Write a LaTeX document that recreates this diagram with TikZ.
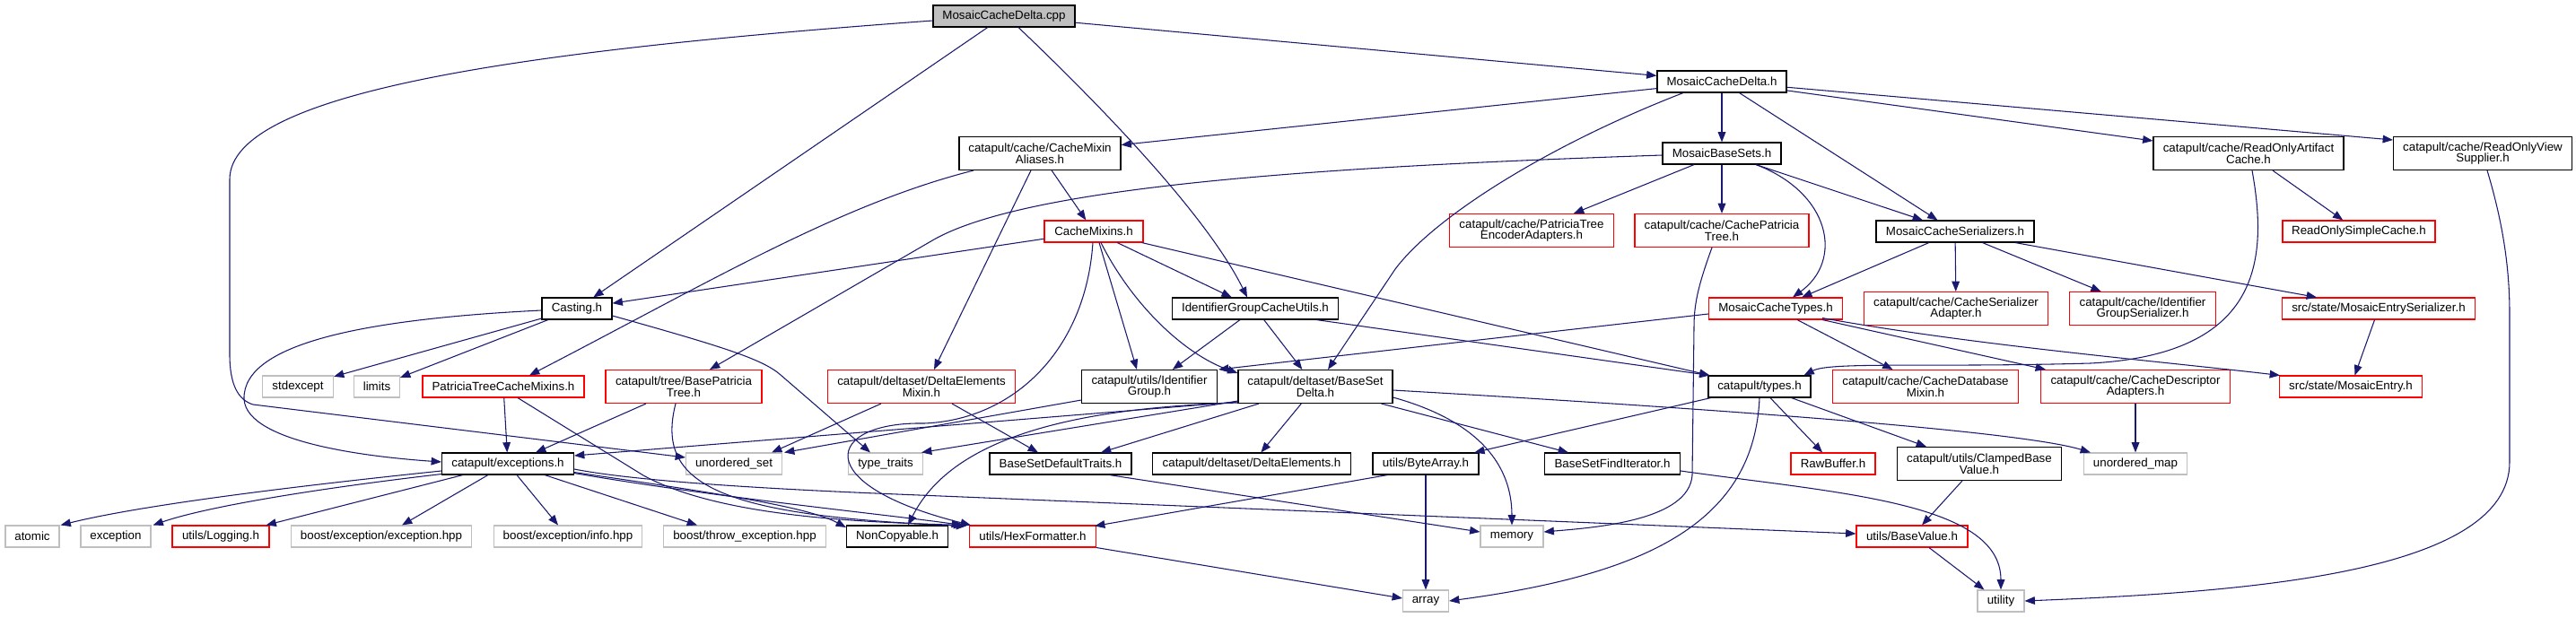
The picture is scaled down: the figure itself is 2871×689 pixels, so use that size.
\documentclass[tikz,border=0pt]{standalone}
\usepackage{fontspec}
\setmainfont{Liberation Sans}
\usetikzlibrary{calc,arrows.meta}
\definecolor{edgec}{HTML}{191970}
\definecolor{grayb}{HTML}{BFBFBF}
\begin{document}
\begin{tikzpicture}[x=0.75pt,y=-0.75pt,
  box/.style={draw, rectangle, inner sep=0pt, minimum height=18pt, align=center,
    font=\fontsize{10}{9.6}\selectfont, line width=0.8pt},
  two/.style={minimum height=27.75pt},
  wd/.style={minimum width={#1*0.75pt}},
  bk/.style={draw=black},
  gy/.style={draw=grayb},
  rd/.style={draw=red},
  edg/.style={draw=edgec, line width=0.8pt, -{Triangle[length=8.5pt,width=6.5pt]}}]
\useasboundingbox (0,0) rectangle (2871,689);
% nodes
\node[box,bk,fill=grayb,wd=158] (cpp) at (1119,18) {MosaicCacheDelta.cpp};
\node[box,bk,wd=144] (mch) at (1919,91) {MosaicCacheDelta.h};
\node[box,bk,two,wd=180] (cma) at (1159,171) {catapult/cache/CacheMixin\\Aliases.h};
\node[box,bk,wd=132] (mbs) at (1919,171) {MosaicBaseSets.h};
\node[box,bk,two,wd=212] (roda) at (2506,171) {catapult/cache/ReadOnlyArtifact\\Cache.h};
\node[box,bk,two,wd=199] (rovs) at (2767,171) {catapult/cache/ReadOnlyView\\Supplier.h};
\node[box,rd,wd=110] (cmix) at (1219,258) {CacheMixins.h};
\node[box,rd,two,wd=183] (ptea) at (1707,257) {catapult/cache/PatriciaTree\\EncoderAdapters.h};
\node[box,rd,two,wd=194] (cpt) at (1919,257) {catapult/cache/CachePatricia\\Tree.h};
\node[box,bk,wd=176] (mcs) at (2179,258) {MosaicCacheSerializers.h};
\node[box,rd,wd=170] (rosc) at (2629,258) {ReadOnlySimpleCache.h};
\node[box,bk,wd=78] (cast) at (643,344) {Casting.h};
\node[box,bk,wd=185] (igcu) at (1399,344) {IdentifierGroupCacheUtils.h};
\node[box,rd,wd=149] (mct) at (1979,344) {MosaicCacheTypes.h};
\node[box,rd,two,wd=205] (csa) at (2180,344) {catapult/cache/CacheSerializer\\Adapter.h};
\node[box,rd,two,wd=163] (igs) at (2388,344) {catapult/cache/Identifier\\GroupSerializer.h};
\node[box,rd,wd=215] (mese) at (2651,344) {src/state/MosaicEntrySerializer.h};
\node[box,gy,wd=79] (stde) at (332,431) {stdexcept};
\node[box,gy,wd=51] (lim) at (420,431) {limits};
\node[box,rd,wd=180] (ptcm) at (561,431) {PatriciaTreeCacheMixins.h};
\node[box,rd,two,wd=174] (bpt) at (762,431) {catapult/tree/BasePatricia\\Tree.h};
\node[box,rd,two,wd=209] (dem) at (1027,431) {catapult/deltaset/DeltaElements\\Mixin.h};
\node[box,bk,two,wd=151] (ig) at (1281,431) {catapult/utils/Identifier\\Group.h};
\node[box,bk,two,wd=172] (bsd) at (1466,431) {catapult/deltaset/BaseSet\\Delta.h};
\node[box,bk,wd=114] (types) at (1961,431) {catapult/types.h};
\node[box,rd,two,wd=207] (cdbm) at (2146,431) {catapult/cache/CacheDatabase\\Mixin.h};
\node[box,rd,two,wd=211] (cda) at (2380,431) {catapult/cache/CacheDescriptor\\Adapters.h};
\node[box,rd,wd=159] (ment) at (2620,431) {src/state/MosaicEntry.h};
\node[box,bk,wd=147] (exc) at (566,517) {catapult/exceptions.h};
\node[box,gy,wd=107] (uset) at (818,517) {unordered\_set};
\node[box,gy,wd=83] (tt) at (987,517) {type\_traits};
\node[box,bk,wd=158] (bsdt) at (1182,517) {BaseSetDefaultTraits.h};
\node[box,bk,wd=221] (de) at (1395,517) {catapult/deltaset/DeltaElements.h};
\node[box,bk,wd=118] (ba) at (1589,517) {utils/ByteArray.h};
\node[box,bk,wd=151] (bsfi) at (1797,517) {BaseSetFindIterator.h};
\node[box,rd,wd=94] (rb) at (2043,517) {RawBuffer.h};
\node[box,bk,two,wd=183] (cbv) at (2206,517) {catapult/utils/ClampedBase\\Value.h};
\node[box,gy,wd=115] (umap) at (2380,517) {unordered\_map};
\node[box,gy,wd=60] (atom) at (36,598) {atomic};
\node[box,gy,wd=78] (excp) at (129,598) {exception};
\node[box,rd,wd=108] (log) at (246,598) {utils/Logging.h};
\node[box,gy,wd=201] (bee) at (425,598) {boost/exception/exception.hpp};
\node[box,gy,wd=165] (bei) at (633,598) {boost/exception/info.hpp};
\node[box,gy,wd=181] (bte) at (830,598) {boost/throw\_exception.hpp};
\node[box,bk,wd=113] (nc) at (1000,598) {NonCopyable.h};
\node[box,rd,wd=141] (hex) at (1151,598) {utils/HexFormatter.h};
\node[box,gy,wd=70] (mem) at (1685,598) {memory};
\node[box,rd,wd=124] (bv) at (2131,598) {utils/BaseValue.h};
\node[box,gy,wd=51] (arr) at (1589,670) {array};
\node[box,gy,wd=52] (util) at (2230,670) {utility};
% edges
\draw[edg] (cpp) -- (mch);
\draw[edg] (cpp) -- (cast);
\draw[edg] ($(cpp.south)+(16,0)$) .. controls (1250,140) and (1350,250) .. ($(igcu.north)+(-9,0)$);
\draw[edg] ($(cpp.west)+(0,5)$) .. controls (600,55) and (256,100) .. (256,200) -- (256,395) .. controls (256,430) and (266,446) .. (282,451) -- ($(uset.west)+(0,-7)$);
\draw[edg] (mch) -- (mbs);
\draw[edg] (mch) -- (mcs);
\draw[edg] (mch) -- ($(roda.west)+(0,-14)$);
\draw[edg] (mch) -- ($(rovs.west)+(0,-15)$);
\draw[edg] (mch) -- (cma);
\draw[edg] ($(mch.south)+(-43,0)$) .. controls (1730,160) and (1600,240) .. (1555,300) -- ($(bsd.north)+(14,0)$);
\draw[edg] (mbs) -- (ptea);
\draw[edg] (mbs) -- (cpt);
\draw[edg] ($(mbs.south)+(38,0)$) .. controls (2040,215) and (2055,290) .. ($(mct.north)+(19,0)$);
\draw[edg] ($(mbs.south)+(38,0)$) -- ($(mcs.north)+(-36,0)$);
\draw[edg] ($(mbs.west)+(0,2)$) .. controls (1500,185) and (1151,205) .. (1041,267) -- ($(bpt.north)+(29,0)$);
\draw[edg] (cma) -- (cmix);
\draw[edg] ($(cma.south)+(-74,0)$) .. controls (935,228) and (790,315) .. ($(ptcm.north)+(29,0)$);
\draw[edg] ($(cma.south)+(-10,0)$) -- ($(dem.north)+(14,0)$);
\draw[edg] (cmix) -- (cast);
\draw[edg] (cmix) -- (igcu);
\draw[edg] ($(cmix.south east)+(-2,0)$) -- ($(types.north west)+(2,0)$);
\draw[edg] ($(cmix.south)+(6,0)$) -- ($(ig.north)+(-14,0)$);
\draw[edg] ($(cmix.south)+(8,0)$) .. controls (1262,340) and (1320,395) .. ($(bsd.west)+(0,-15)$);
\draw[edg] ($(cmix.south)+(-1,0)$) .. controls (1210,390) and (1130,468) .. (1030,472) .. controls (920,470) and (900,540) .. ($(hex.north west)+(2,0)$);
\draw[edg] (igcu) -- (ig);
\draw[edg] (igcu) -- (bsd);
\draw[edg] ($(igcu.south east)+(-25,0)$) -- ($(types.north west)+(2,0)$);
\draw[edg] (mcs) -- (mct);
\draw[edg] (mcs) -- (csa);
\draw[edg] (mcs) -- (igs);
\draw[edg] ($(mcs.south)+(67,0)$) -- ($(mese.north)+(-69,0)$);
\draw[edg] (roda) -- (rosc);
\draw[edg] ($(roda.south)+(4,0)$) .. controls (2528,290) and (2520,395) .. (2330,405) .. controls (2150,410) and (2040,403) .. ($(types.north east)+(-8,0)$);
\draw[edg] ($(rovs.south)+(5,0)$) .. controls (2790,250) and (2797,300) .. (2797,350) -- (2797,515) .. controls (2797,640) and (2500,660) .. (util.east);
\draw[edg] ($(mct.west)+(0,6)$) -- ($(ig.north east)+(1,0)$);
\draw[edg] (mct) -- (cdbm);
\draw[edg] ($(mct.south east)+(-23,0)$) -- ($(cda.north west)+(6,0)$);
\draw[edg] ($(mct.south east)+(-23,-2)$) .. controls (2200,385) and (2400,402) .. ($(ment.north west)+(1,0)$);
\draw[edg] (mese) -- (ment);
\draw[edg] (cda) -- (umap);
\draw[edg] ($(cpt.south)+(-11,0)$) .. controls (1892,320) and (1888,340) .. (1888,365) -- (1886,530) .. controls (1882,580) and (1780,588) .. ($(mem.east)+(0,-5)$);
\draw[edg] (types) -- (ba);
\draw[edg] (types) -- (rb);
\draw[edg] ($(types.south east)+(-22,0)$) -- ($(cbv.north)+(-59,0)$);
\draw[edg] (types.south) .. controls (1955,580) and (1840,640) .. (arr.east);
\draw[edg] ($(bsd.east)+(0,4)$) .. controls (1900,455) and (2250,480) .. ($(umap.north west)+(8,0)$);
\draw[edg] ($(bsd.east)+(0,12)$) .. controls (1650,470) and (1685,520) .. (mem.north);
\draw[edg] ($(bsd.south east)+(-13,0)$) -- ($(bsfi.north west)+(27,0)$);
\draw[edg] (bsd) -- (de);
\draw[edg] ($(bsd.south)+(-63,0)$) -- ($(bsdt.north)+(45,0)$);
\draw[edg] ($(bsd.south west)+(0,-3)$) -- ($(tt.north east)+(-2,0)$);
\draw[edg] ($(bsd.south west)+(0,-2)$) -- ($(exc.east)+(0,-9)$);
\draw[edg] ($(bsd.south west)+(0,-1)$) .. controls (1190,455) and (1060,490) .. ($(nc.north)+(12,0)$);
\draw[edg] ($(ig.south west)+(0,-4)$) -- ($(uset.north east)+(2,0)$);
\draw[edg] ($(dem.south)+(-45,0)$) -- ($(uset.north east)+(-12,0)$);
\draw[edg] ($(dem.south)+(34,0)$) -- ($(bsdt.north)+(-25,0)$);
\draw[edg] (cast) -- (stde);
\draw[edg] (cast) -- (lim);
\draw[edg] ($(cast.west)+(0,2)$) .. controls (420,355) and (270,380) .. (272,445) .. controls (275,495) and (420,510) .. ($(exc.west)+(0,-2)$);
\draw[edg] ($(cast.east)+(0,8)$) .. controls (800,385) and (850,400) .. (870,418) -- ($(tt.north)+(-17,0)$);
\draw[edg] (ptcm) -- (exc);
\draw[edg] ($(ptcm.south)+(16,0)$) -- (717,530) .. controls (800,575) and (950,582) .. ($(hex.north west)+(-6,0)$);
\draw[edg] ($(bpt.south)+(-42,0)$) -- ($(exc.north)+(31,0)$);
\draw[edg] ($(bpt.south)+(-9,0)$) .. controls (730,540) and (800,575) .. ($(hex.north west)+(-3,1)$);
\draw[edg] ($(exc.west)+(0,8)$) .. controls (300,545) and (150,565) .. ($(atom.north east)+(1,0)$);
\draw[edg] ($(exc.south west)+(0,-1)$) .. controls (350,545) and (230,565) .. ($(excp.north east)+(2,0)$);
\draw[edg] ($(exc.south west)+(24,0)$) -- ($(log.north east)+(-4,0)$);
\draw[edg] ($(exc.south west)+(52,0)$) -- ($(bee.north)+(23,0)$);
\draw[edg] ($(exc.south)+(10,0)$) -- ($(bei.north)+(-11,0)$);
\draw[edg] ($(exc.south east)+(-33,0)$) -- ($(bte.north west)+(38,0)$);
\draw[edg] ($(exc.south east)+(0,-3)$) .. controls (800,550) and (900,565) .. ($(nc.west)+(0,-10)$);
\draw[edg] ($(exc.south east)+(0,-2)$) .. controls (800,555) and (1000,575) .. ($(hex.north west)+(-8,0)$);
\draw[edg] ($(exc.east)+(0,6)$) .. controls (690,533) and (800,543) .. (1000,551) -- ($(bv.west)+(0,-3)$);
\draw[edg] (ba) -- (arr);
\draw[edg] ($(ba.south west)+(17,0)$) -- ($(hex.north east)+(-2,1)$);
\draw[edg] ($(bsdt.south west)+(134,0)$) -- ($(mem.west)+(0,-5)$);
\draw[edg] ($(bsfi.east)+(0,8)$) .. controls (2050,550) and (2230,560) .. (util.north);
\draw[edg] ($(cbv.south west)+(73,0)$) -- ($(bv.north)+(11,0)$);
\draw[edg] ($(bv.south)+(19,0)$) -- ($(util.north west)+(8,0)$);
\draw[edg] (hex.south east) -- ($(arr.west)+(0,-3)$);
\end{tikzpicture}
\end{document}
